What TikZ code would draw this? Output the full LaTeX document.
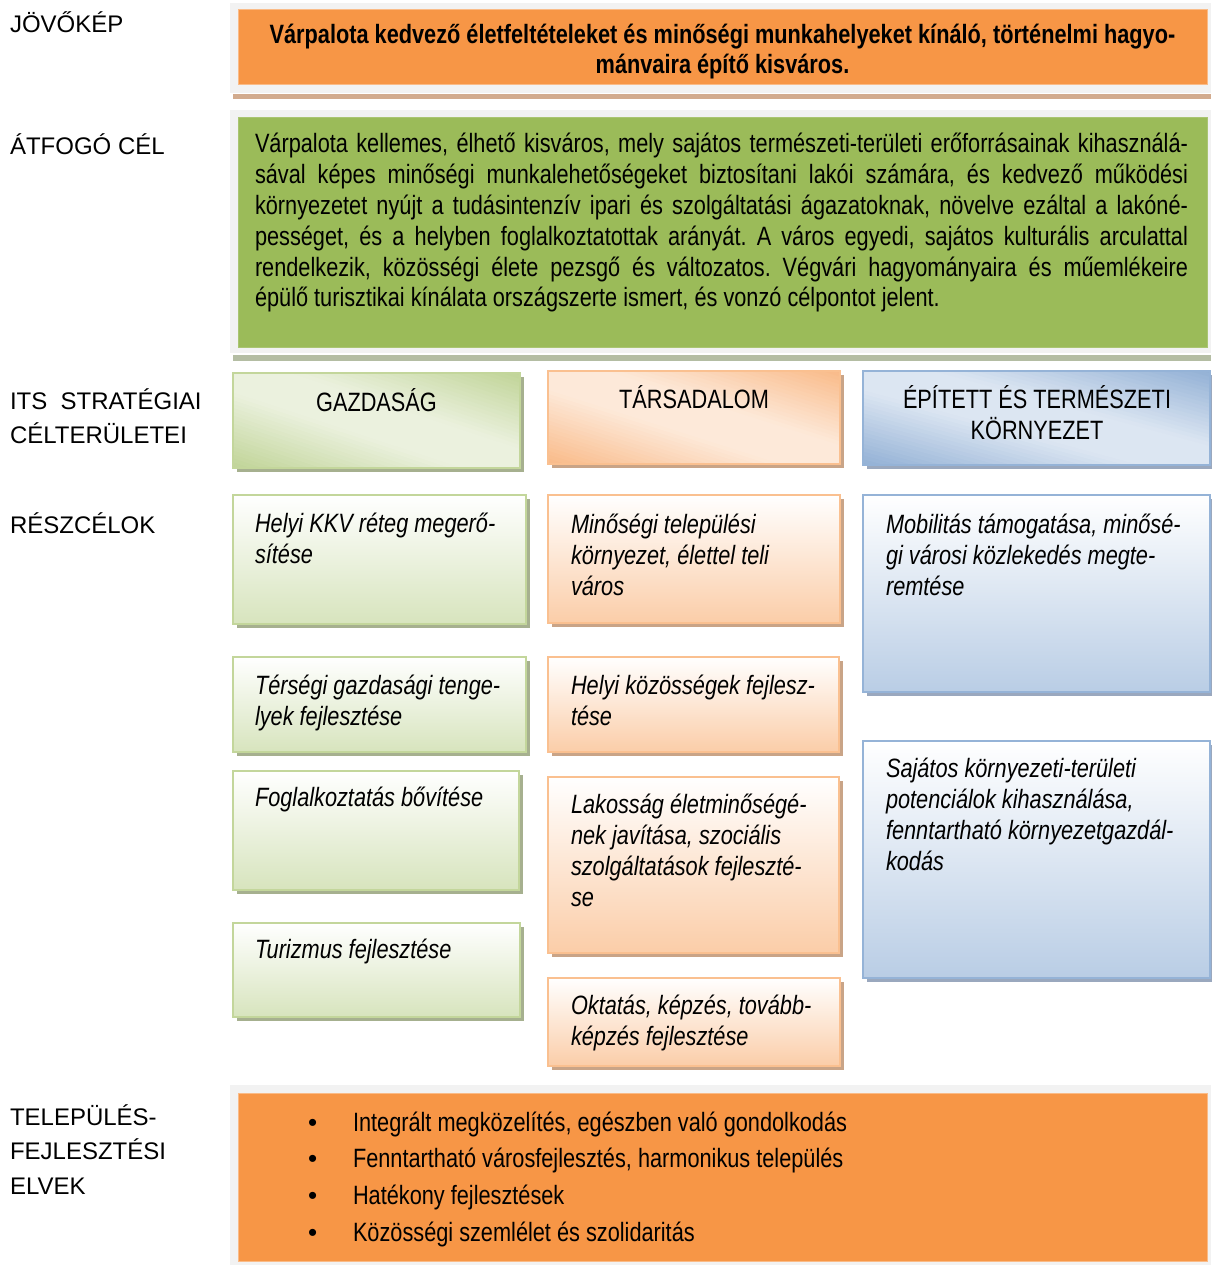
\documentclass[tikz,border=0pt]{standalone}
\usepackage{fontspec}
\newfontfamily\arl{Liberation Sans}
\newfontfamily\nar[FakeStretch=0.82]{Liberation Sans}
\usetikzlibrary{shadows}
\frenchspacing
\definecolor{jorange}{HTML}{F79646}
\definecolor{jgreen}{HTML}{9BBB59}
\definecolor{fgray}{HTML}{F2F2F2}
\definecolor{gdark}{HTML}{C0D497}
\definecolor{glight}{HTML}{EBF1DE}
\definecolor{gsub}{HTML}{D7E4BD}
\definecolor{gline}{HTML}{C3D69B}
\definecolor{odark}{HTML}{F9BA88}
\definecolor{olight}{HTML}{FDE9D9}
\definecolor{osub}{HTML}{FBCDA8}
\definecolor{oline}{HTML}{FAC090}
\definecolor{bdark}{HTML}{92B0D5}
\definecolor{blight}{HTML}{DCE6F2}
\definecolor{bsub}{HTML}{B9CDE5}
\definecolor{bline}{HTML}{95B3D7}
\definecolor{gshad}{HTML}{A6B08F}
\definecolor{oshad}{HTML}{C9A487}
\definecolor{bshad}{HTML}{9AA8BE}
\definecolor{topshad}{HTML}{D2AB8E}
\definecolor{midshad}{HTML}{B4BDA3}
\newcommand\tl[1]{\begin{tabular}[t]{@{}l@{}}#1\end{tabular}}
\newcommand\tc[1]{\begin{tabular}[t]{@{}c@{}}#1\end{tabular}}
\newcommand\jl[1]{\makebox[933pt][s]{#1}\par}
\newcommand\bul{\makebox[45pt][l]{\arl\fontsize{26}{36.8}\selectfont •}}
% diagonal "centre" gradient: dark in top-right and bottom-left corners, light band TL-BR
% #1 x0, #2 y0, #3 w, #4 h, #5 dark, #6 light
\newcommand\diagfill[6]{%
  \begin{scope}
  \clip (#1,#2) rectangle ++(#3,#4);
  \foreach \i in {0,...,49}{%
    \pgfmathsetmacro\ta{-1.02+\i*0.0408}%
    \pgfmathsetmacro\tb{\ta+0.05}%
    \pgfmathsetmacro\tm{abs(\ta+0.0204)}%
    \pgfmathsetmacro\lf{max(0,min(100,125*(1-\tm)))}%
    \pgfmathsetmacro\cx{#1+#3/2}%
    \pgfmathsetmacro\cy{#2+#4/2}%
    \fill[#6!\lf!#5]
      ({\cx+(-1.3+\ta)*#3/2},{\cy+(-1.3-\ta)*#4/2}) --
      ({\cx+(1.3+\ta)*#3/2},{\cy+(1.3-\ta)*#4/2}) --
      ({\cx+(1.3+\tb)*#3/2},{\cy+(1.3-\tb)*#4/2}) --
      ({\cx+(-1.3+\tb)*#3/2},{\cy+(-1.3-\tb)*#4/2}) -- cycle;
  }
  \end{scope}}
\begin{document}
\begin{tikzpicture}[x=1pt,y=-1pt,
  every node/.style={inner sep=0pt,outer sep=0pt},
  frame/.style={fill=fgray,draw=none,anchor=north west},
  bar/.style={fill=#1,draw=none,anchor=north west},
  catbox/.style={anchor=north west,fill=white,
    drop shadow={shadow xshift=4pt,shadow yshift=-4pt,fill=#1,opacity=1}},
  gsubs/.style={anchor=north west,draw=gline,line width=1.5pt,
    top color=white,middle color=gsub,bottom color=gsub,
    drop shadow={shadow xshift=4pt,shadow yshift=-4pt,fill=gshad,opacity=1}},
  osubs/.style={anchor=north west,draw=oline,line width=1.5pt,
    top color=white,middle color=osub,bottom color=osub,
    drop shadow={shadow xshift=4pt,shadow yshift=-4pt,fill=oshad,opacity=1}},
  bsubs/.style={anchor=north west,draw=bline,line width=1.5pt,
    top color=white,middle color=bsub,bottom color=bsub,
    drop shadow={shadow xshift=4pt,shadow yshift=-4pt,fill=bshad,opacity=1}},
  lab/.style={anchor=base west,font=\arl\fontsize{24}{34.5}\selectfont},
  cattxt/.style={anchor=base,font=\nar\fontsize{26.5}{30}\selectfont},
  subtxt/.style={anchor=base west,font=\nar\itshape\fontsize{26.5}{31}\selectfont}
]
\useasboundingbox[fill=white] (0,0) rectangle (1211,1265);

% left labels
\node[lab] (l1) at (10,33) {JÖVŐKÉP};
\node[lab] (l2) at (10,155) {ÁTFOGÓ CÉL};
\node[lab] (l3) at (10,409) {\tl{ITS\ \ STRATÉGIAI\\CÉLTERÜLETEI}};
\node[lab] (l4) at (10,533) {RÉSZCÉLOK};
\node[lab] (l5) at (10,1125) {\tl{TELEPÜLÉS-\\FEJLESZTÉSI\\ELVEK}};

% vision band
\node[frame,minimum width=981pt,minimum height=90pt] (vf) at (230,3) {};
\node[bar=topshad,minimum width=978pt,minimum height=5pt] (vs) at (233,94) {};
\node[anchor=north west,fill=jorange,draw=jorange!65!white,line width=1pt,
  minimum width=969pt,minimum height=75pt] (vis) at (238,10) {};
\node[anchor=base,font=\nar\bfseries\fontsize{26.5}{30}\selectfont] (vist) at (722.5,44)
  {\tc{Várpalota kedvező életfeltételeket és minőségi munkahelyeket kínáló, történelmi hagyo-\\mánvaira építő kisváros.}};

% overall goal band
\node[frame,minimum width=981pt,minimum height=243pt] (cf) at (230,110) {};
\node[bar=midshad,minimum width=978pt,minimum height=6pt] (cs) at (233,355) {};
\node[anchor=north west,fill=jgreen,draw=jgreen!85!white,line width=1pt,
  minimum width=969pt,minimum height=229pt] (cel) at (238,118) {};
\node[anchor=base west,font=\nar\fontsize{26.5}{30.8}\selectfont] (celt) at (255,153)
  {\parbox[t]{933pt}{\frenchspacing
  \jl{Várpalota kellemes, élhető kisváros, mely sajátos természeti-területi erőforrásainak kihasználá-}%
  \jl{sával képes minőségi munkalehetőségeket biztosítani lakói számára, és kedvező működési}%
  \jl{környezetet nyújt a tudásintenzív ipari és szolgáltatási ágazatoknak, növelve ezáltal a lakóné-}%
  \jl{pességet, és a helyben foglalkoztatottak arányát. A város egyedi, sajátos kulturális arculattal}%
  \jl{rendelkezik, közösségi élete pezsgő és változatos. Végvári hagyományaira és műemlékeire}%
  épülő turisztikai kínálata országszerte ismert, és vonzó célpontot jelent.}};

% category boxes
\node[catbox=gshad,minimum width=287pt,minimum height=95pt] (gaz) at (233,373) {};
\diagfill{233}{373}{287}{95}{gdark}{glight}
\draw[gline,line width=1.5pt] (gaz.north west) rectangle (gaz.south east);
\node[catbox=oshad,minimum width=292pt,minimum height=93pt] (tar) at (548,371) {};
\diagfill{548}{371}{292}{93}{odark}{olight}
\draw[oline,line width=1.5pt] (tar.north west) rectangle (tar.south east);
\node[catbox=bshad,minimum width=347pt,minimum height=94pt] (epi) at (863,371) {};
\diagfill{863}{371}{347}{94}{bdark}{blight}
\draw[bline,line width=1.5pt] (epi.north west) rectangle (epi.south east);
\node[cattxt] (gazt) at (376.5,411) {GAZDASÁG};
\node[cattxt] (tart) at (694,408) {TÁRSADALOM};
\node[cattxt] (epit) at (1037,408) {\tc{ÉPÍTETT ÉS TERMÉSZETI\\KÖRNYEZET}};

% sub-goal boxes: economy
\node[gsubs,minimum width=293pt,minimum height=129pt] (g1) at (233,495) {};
\node[gsubs,minimum width=293pt,minimum height=95pt] (g2) at (233,657) {};
\node[gsubs,minimum width=286pt,minimum height=119pt] (g3) at (233,771) {};
\node[gsubs,minimum width=287pt,minimum height=94pt] (g4) at (233,923) {};
% society
\node[osubs,minimum width=292pt,minimum height=128pt] (o1) at (548,495) {};
\node[osubs,minimum width=291pt,minimum height=95pt] (o2) at (548,657) {};
\node[osubs,minimum width=291pt,minimum height=176pt] (o3) at (548,777) {};
\node[osubs,minimum width=292pt,minimum height=88pt] (o4) at (548,978) {};
% environment
\node[bsubs,minimum width=347pt,minimum height=197pt] (b1) at (863,495) {};
\node[bsubs,minimum width=347pt,minimum height=237pt] (b2) at (863,741) {};

\node[subtxt] (g1t) at (255,532) {\tl{Helyi KKV réteg megerő-\\sítése}};
\node[subtxt] (g2t) at (255,694) {\tl{Térségi gazdasági tenge-\\lyek fejlesztése}};
\node[subtxt] (g3t) at (255,806) {Foglalkoztatás bővítése};
\node[subtxt] (g4t) at (255,958) {Turizmus fejlesztése};
\node[subtxt] (o1t) at (571,533) {\tl{Minőségi települési\\környezet, élettel teli\\város}};
\node[subtxt] (o2t) at (571,694) {\tl{Helyi közösségek fejlesz-\\tése}};
\node[subtxt] (o3t) at (571,813) {\tl{Lakosság életminőségé-\\nek javítása, szociális\\szolgáltatások fejleszté-\\se}};
\node[subtxt] (o4t) at (571,1014) {\tl{Oktatás, képzés, tovább-\\képzés fejlesztése}};
\node[subtxt] (b1t) at (886,533) {\tl{Mobilitás támogatása, minősé-\\gi városi közlekedés megte-\\remtése}};
\node[subtxt] (b2t) at (886,777) {\tl{Sajátos környezeti-területi\\potenciálok kihasználása,\\fenntartható környezetgazdál-\\kodás}};

% principles band
\node[frame,minimum width=981pt,minimum height=180pt] (pf) at (230,1085) {};
\node[anchor=north west,fill=jorange,draw=jorange!65!white,line width=1pt,
  minimum width=969pt,minimum height=168pt] (elv) at (238,1093) {};
\node[anchor=base west,font=\nar\fontsize{26.5}{36.8}\selectfont] (elvt) at (308,1131)
  {\tl{\bul Integrált megközelítés, egészben való gondolkodás\\
       \bul Fenntartható városfejlesztés, harmonikus település\\
       \bul Hatékony fejlesztések\\
       \bul Közösségi szemlélet és szolidaritás}};
\end{tikzpicture}
\end{document}
